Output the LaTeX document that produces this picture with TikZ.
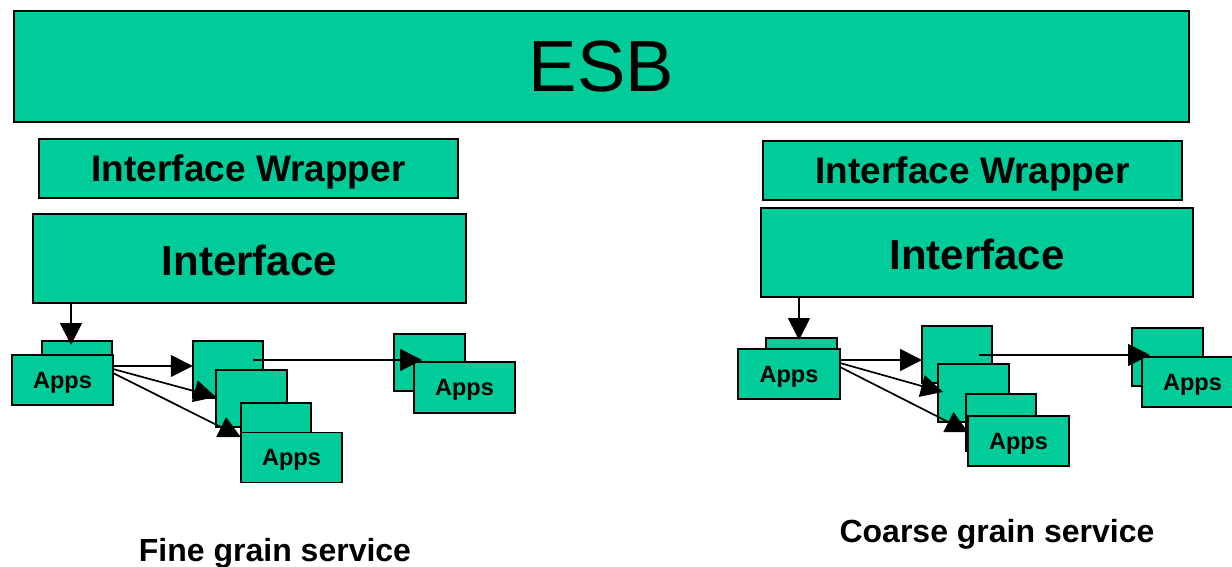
\documentclass[tikz,border=0pt]{standalone}
\usepackage{fontspec}
\setmainfont{Liberation Sans}
\usetikzlibrary{arrows.meta}
\definecolor{esbgreen}{RGB}{0,204,153}
\tikzset{
  box/.style={draw=black, line width=1.6pt, fill=esbgreen, inner sep=0pt, outer sep=0pt, align=center, text depth=0pt},
  arr/.style={draw=black, line width=1.7pt, -{Triangle[length=22pt,width=22pt]}},
  lbl/.style={font=\bfseries\fontsize{32}{36}\selectfont, text depth=0pt},
  appsfont/.style={font=\bfseries\fontsize{23.5}{26}\selectfont},
}
\begin{document}
\begin{tikzpicture}[x=1pt,y=-1pt]
\useasboundingbox (0,0) rectangle (1232,566);
% ESB
\node[box, minimum width=1175pt, minimum height=111pt, font=\fontsize{72.5}{80}\selectfont] (esb) at (601.5,66.5) {ESB};
% left side
\node[box, minimum width=419pt, minimum height=59pt, font=\bfseries\fontsize{37}{40}\selectfont] (ifwL) at (248.5,168.5) {Interface Wrapper};
\node[box, minimum width=433pt, minimum height=89pt, text height=34pt, font=\bfseries\fontsize{42}{46}\selectfont] (intL) at (249.5,258.5) {Interface};
\node[box, minimum width=70pt, minimum height=34pt] (a1b) at (77,358) {};
\node[box, appsfont, minimum width=101pt, minimum height=50pt] (a1) at (62.5,380) {Apps};
\node[box, minimum width=70.5pt, minimum height=57pt] (b2) at (228,369.5) {};
\node[box, minimum width=71pt, minimum height=57pt] (b3) at (251.5,398.5) {};
\node[box, minimum width=70.5pt, minimum height=57pt] (b4) at (276,431.5) {};
\node[box, appsfont, minimum width=101pt, minimum height=50pt] (a5) at (291.5,457.5) {Apps};
\node[box, minimum width=71pt, minimum height=57pt] (b6) at (429.5,362.5) {};
\node[box, appsfont, minimum width=101pt, minimum height=51pt] (a7) at (464.5,387.5) {Apps};
% right side
\node[box, minimum width=419pt, minimum height=59pt, font=\bfseries\fontsize{37}{40}\selectfont] (ifwR) at (972.5,170.5) {Interface Wrapper};
\node[box, minimum width=432pt, minimum height=89pt, text height=34pt, font=\bfseries\fontsize{42}{46}\selectfont] (intR) at (977,252.5) {Interface};
\node[box, minimum width=71pt, minimum height=34pt] (ra1b) at (801.5,355) {};
\node[box, appsfont, minimum width=102pt, minimum height=50pt] (ra1) at (789,374) {Apps};
\node[box, minimum width=70pt, minimum height=57pt] (rb2) at (957,354.5) {};
\node[box, minimum width=71pt, minimum height=58pt] (rb3) at (973.5,393) {};
\node[box, minimum width=70pt, minimum height=57pt] (rb4) at (1001,422.5) {};
\node[box, appsfont, minimum width=101pt, minimum height=50pt] (ra5) at (1018.5,441) {Apps};
\node[box, minimum width=71pt, minimum height=58pt] (rb6) at (1167.5,357) {};
\node[box, appsfont, minimum width=101pt, minimum height=50pt] (ra7) at (1192.5,382) {Apps};
% labels
\node[lbl] (fine) at (275,550) {Fine grain service};
\node[lbl] (coarse) at (997,531) {Coarse grain service};
% left arrows
\coordinate (pL) at ([xshift=-6pt]a1b.north);
\draw[arr] (intL.south -| pL) -- ([yshift=-4pt]pL);
\draw[arr] ([yshift=14pt]a1.east) -- ([yshift=3.5pt]b2.west);
\draw[arr] ([yshift=11pt]a1.east) -- ([yshift=1.5pt]b3.west);
\draw[arr] ([yshift=7pt]a1.east) -- ([yshift=-5.5pt]b4.west);
\draw[arr] ([xshift=25pt,yshift=9.5pt]b2.center) -- ([xshift=28pt,yshift=2.5pt]b6.west);
% right arrows
\coordinate (pR) at ([xshift=-2.5pt]ra1b.north);
\draw[arr] (intR.south -| pR) -- ([yshift=-2pt]pR);
\draw[arr] ([yshift=14pt]ra1.east) -- ([yshift=-5.5pt]rb2.west);
\draw[arr] ([yshift=11pt]ra1.east) -- ([xshift=5pt,yshift=1pt]rb3.west);
\draw[arr] ([yshift=7pt]ra1.east) -- ([xshift=2pt,yshift=-9.5pt]rb4.west);
\draw[arr] ([xshift=22pt,yshift=-0.5pt]rb2.center) -- ([xshift=18pt,yshift=2pt]rb6.west);
\end{tikzpicture}
\end{document}
